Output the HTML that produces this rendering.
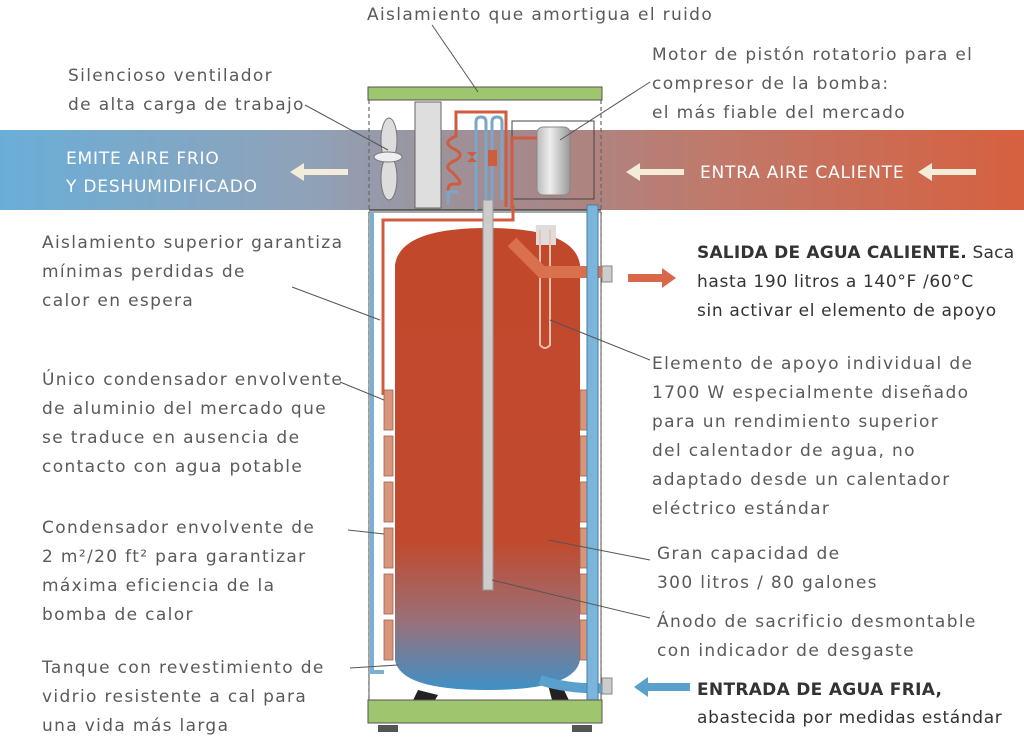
<!DOCTYPE html>
<html><head><meta charset="utf-8"><style>
html,body{margin:0;padding:0;background:#fff;}
svg{display:block;}
text{font-family:"DejaVu Sans","Liberation Sans",sans-serif;font-size:17px;fill:#5a5a5a;letter-spacing:1.35px;}
.w{fill:#fff;font-size:17px;letter-spacing:0.8px;}
.b{fill:#333;font-weight:bold;letter-spacing:0.3px;}
.d{fill:#333;letter-spacing:0.65px;}
</style></head><body>
<svg width="1024" height="739" viewBox="0 0 1024 739">
<defs>
<linearGradient id="band" x1="0" x2="1" y1="0" y2="0">
<stop offset="0" stop-color="#6aaed8"/><stop offset="0.3" stop-color="#8fa2b8"/>
<stop offset="0.5" stop-color="#a48a8e"/><stop offset="0.7" stop-color="#c0796a"/>
<stop offset="1" stop-color="#d6603f"/></linearGradient>
<linearGradient id="tank" x1="0" x2="0" y1="0" y2="1">
<stop offset="0" stop-color="#c2482c"/><stop offset="0.68" stop-color="#c14a2e"/>
<stop offset="0.85" stop-color="#9a7078"/><stop offset="1" stop-color="#3f90c6"/></linearGradient>
<linearGradient id="cyl" x1="0" x2="1"><stop offset="0" stop-color="#bbb"/><stop offset="0.4" stop-color="#eee"/><stop offset="1" stop-color="#999"/></linearGradient>
</defs>
<rect x="0" y="130" width="1024" height="80" fill="url(#band)"/>
<line x1="369" y1="100" x2="369" y2="700" stroke="#666" stroke-width="1.2" stroke-dasharray="4 3"/>
<line x1="601" y1="100" x2="601" y2="700" stroke="#666" stroke-width="1.2" stroke-dasharray="4 3"/>
<line x1="369" y1="210" x2="601" y2="210" stroke="#444" stroke-width="1.5"/>
<rect x="369" y="212" width="232" height="488" fill="#fff" stroke="#555" stroke-width="1"/>
<rect x="368" y="87" width="234" height="13" fill="#9fc56e" stroke="#555"/>
<ellipse cx="389" cy="140" rx="8" ry="22" fill="#ddd" stroke="#777"/>
<ellipse cx="389" cy="178" rx="8" ry="22" fill="#ddd" stroke="#777"/>
<ellipse cx="388" cy="157" rx="14" ry="5" fill="#eee" stroke="#777"/>
<rect x="415" y="102" width="26" height="106" fill="#dedede" stroke="#666"/>
<path d="M448 205 V190 q0-6 6-6 h4 q6 0-6-12 q-10-6 4-12 q10-6-4-12 q-10-6 4-12 V112 h50 v95" fill="none" stroke="#d05c40" stroke-width="3"/>
<path d="M448 205 V192 h10 M476 210 V122 q0-5 5-5 q5 0 5 5 V200 M492 205 V122 q0-5 5-5 q5 0 5 5 V200" fill="none" stroke="#7aa6c8" stroke-width="3"/>
<path d="M467 152 l10 10 h-10 l10-10z" fill="#d05c40"/>
<rect x="488" y="150" width="9" height="16" fill="#d05c40"/>
<rect x="512" y="121" width="82" height="78" fill="none" stroke="#444"/>
<rect x="537" y="127" width="33" height="68" rx="6" fill="url(#cyl)" stroke="#888"/>
<path d="M512 210 V138 h25" fill="none" stroke="#d05c40" stroke-width="3"/>
<path d="M372 212 v460 h12" fill="none" stroke="#7ab0d4" stroke-width="4"/>
<path d="M383 395 V220 h130 V205" fill="none" stroke="#d05c40" stroke-width="3"/>
<path d="M395 265 Q400 228 487 228 Q575 228 580 265 V660 Q575 690 487 690 Q400 690 395 660 Z" fill="url(#tank)"/>
<path d="M418 690 l-12 25 h20 l12-20z M548 685 l8 30 h20 l-12-25z" fill="#222"/>
<rect x="483" y="200" width="10" height="390" fill="#ccc" stroke="#999"/>
<rect x="536" y="225" width="20" height="20" fill="#ddd"/>
<path d="M540 230 V345 q5 6 10 0 V230" fill="none" stroke="#f0c0b0" stroke-width="2"/>
<path d="M512 242 l30 30 h60" fill="none" stroke="#d9704e" stroke-width="12"/>
<path d="M540 680 q30 10 70 8" fill="none" stroke="#5aa0cc" stroke-width="10"/>
<g fill="#d8957a" stroke="#a06050" stroke-width="0.8">
<rect x="384" y="390" width="9" height="40"/><rect x="384" y="436" width="9" height="40"/><rect x="384" y="482" width="9" height="40"/><rect x="384" y="528" width="9" height="40"/><rect x="384" y="574" width="9" height="40"/><rect x="384" y="620" width="9" height="40"/>
<rect x="580" y="390" width="9" height="40"/><rect x="580" y="436" width="9" height="40"/><rect x="580" y="482" width="9" height="40"/><rect x="580" y="528" width="9" height="40"/><rect x="580" y="574" width="9" height="40"/><rect x="580" y="620" width="9" height="40"/>
</g>
<rect x="587" y="205" width="11" height="515" fill="#7ab6dc" stroke="#4a7ea0"/>
<rect x="602" y="266" width="10" height="16" fill="#ccc" stroke="#888"/>
<rect x="602" y="678" width="10" height="16" fill="#ccc" stroke="#888"/>
<rect x="368" y="700" width="234" height="23" fill="#9fc56e" stroke="#555"/>
<rect x="378" y="725" width="20" height="7" fill="#555"/><rect x="572" y="725" width="20" height="7" fill="#555"/>
<path d="M290 172 l14-9 v6 h44 v6 h-44 v6z" fill="#f3ecd8"/>
<path d="M626 172 l14-9 v6 h44 v6 h-44 v6z" fill="#f3ecd8"/>
<path d="M918 172 l14-9 v6 h44 v6 h-44 v6z" fill="#f3ecd8"/>
<path d="M676 278 l-14 10 v-6 h-34 v-8 h34 v-6z" fill="#d9684a"/>
<path d="M634 687 l14-10 v6 h42 v8 h-42 v6z" fill="#5aa0cc"/>
<g stroke="#555" stroke-width="1">
<line x1="432" y1="25" x2="478" y2="92"/><line x1="305" y1="105" x2="388" y2="150"/>
<line x1="650" y1="82" x2="560" y2="140"/><line x1="292" y1="287" x2="380" y2="320"/>
<line x1="340" y1="382" x2="384" y2="400"/><line x1="348" y1="530" x2="384" y2="534"/>
<line x1="350" y1="668" x2="398" y2="665"/><line x1="650" y1="360" x2="550" y2="320"/>
<line x1="650" y1="560" x2="548" y2="540"/><line x1="650" y1="618" x2="492" y2="580"/>
</g>
<text x="367" y="20">Aislamiento que amortigua el ruido</text>
<text x="68" y="81">Silencioso ventilador</text><text x="68" y="110">de alta carga de trabajo</text>
<text x="652" y="60">Motor de pistón rotatorio para el</text><text x="652" y="89">compresor de la bomba:</text><text x="652" y="118">el más fiable del mercado</text>
<text class="w" x="66" y="164">EMITE AIRE FRIO</text><text class="w" x="66" y="192">Y DESHUMIDIFICADO</text>
<text class="w" x="700" y="178">ENTRA AIRE CALIENTE</text>
<text x="42" y="248">Aislamiento superior garantiza</text><text x="42" y="277">mínimas perdidas de</text><text x="42" y="306">calor en espera</text>
<text class="d" x="697" y="258" style="letter-spacing:0.2px"><tspan style="font-weight:bold">SALIDA DE AGUA CALIENTE.</tspan> Saca</text>
<text class="d" x="697" y="287">hasta 190 litros a 140°F /60°C</text><text class="d" x="697" y="316">sin activar el elemento de apoyo</text>
<text x="652" y="369">Elemento de apoyo individual de</text><text x="652" y="398">1700 W especialmente diseñado</text><text x="652" y="427">para un rendimiento superior</text><text x="652" y="456">del calentador de agua, no</text><text x="652" y="485">adaptado desde un calentador</text><text x="652" y="514">eléctrico estándar</text>
<text x="42" y="385">Único condensador envolvente</text><text x="42" y="414">de aluminio del mercado que</text><text x="42" y="443">se traduce en ausencia de</text><text x="42" y="472">contacto con agua potable</text>
<text x="42" y="533">Condensador envolvente de</text><text x="42" y="562">2 m²/20 ft² para garantizar</text><text x="42" y="591">máxima eficiencia de la</text><text x="42" y="620">bomba de calor</text>
<text x="657" y="559">Gran capacidad de</text><text x="657" y="588">300 litros / 80 galones</text>
<text x="657" y="627">Ánodo de sacrificio desmontable</text><text x="657" y="656">con indicador de desgaste</text>
<text x="42" y="673">Tanque con revestimiento de</text><text x="42" y="702">vidrio resistente a cal para</text><text x="42" y="731">una vida más larga</text>
<text class="b" x="697" y="695">ENTRADA DE AGUA FRIA,</text><text class="d" x="697" y="723">abastecida por medidas estándar</text>
</svg>
</body></html>
